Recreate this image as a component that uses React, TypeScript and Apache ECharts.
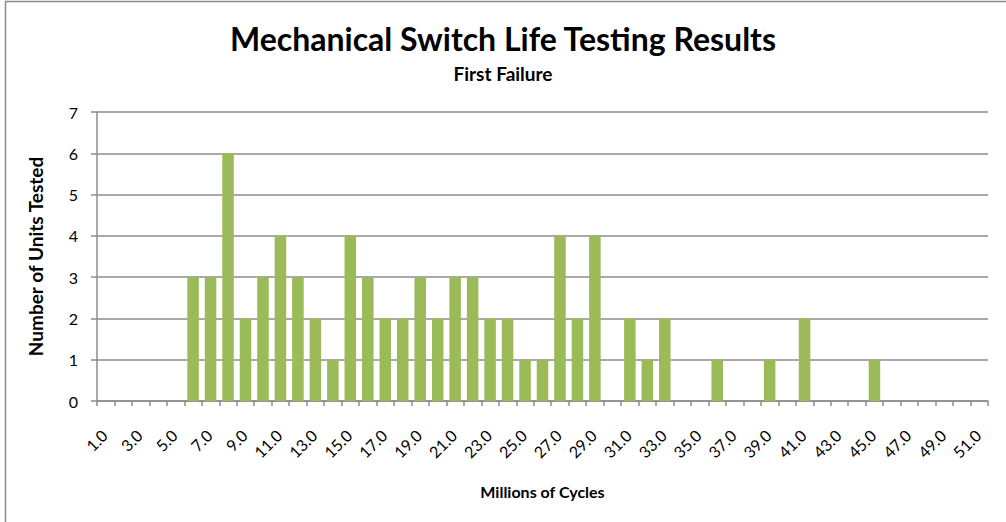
import React, { useEffect, useRef } from "react";
import * as echarts from "echarts";

const categories: string[] = [
  "1.0", "2.0", "3.0", "4.0", "5.0", "6.0", "7.0", "8.0", "9.0", "10.0",
  "11.0", "12.0", "13.0", "14.0", "15.0", "16.0", "17.0", "18.0", "19.0", "20.0",
  "21.0", "22.0", "23.0", "24.0", "25.0", "26.0", "27.0", "28.0", "29.0", "30.0",
  "31.0", "32.0", "33.0", "34.0", "35.0", "36.0", "37.0", "38.0", "39.0", "40.0",
  "41.0", "42.0", "43.0", "44.0", "45.0", "46.0", "47.0", "48.0", "49.0", "50.0",
  "51.0",
];

const unitsTested: number[] = [
  0, 0, 0, 0, 0, 3, 3, 6, 2, 3,
  4, 3, 2, 1, 4, 3, 2, 2, 3, 2,
  3, 3, 2, 2, 1, 1, 4, 2, 4, 0,
  2, 1, 2, 0, 0, 1, 0, 0, 1, 0,
  2, 0, 0, 0, 1, 0, 0, 0, 0, 0,
  0,
];

const titleText = "Mechanical Switch Life Testing Results";
const subtitleText = "First Failure";
const xName = "Millions of Cycles";
const yName = "Number of Units Tested";

export default function App() {
  const ref = useRef<HTMLDivElement>(null);
  useEffect(() => {
    if (!ref.current) return;
    const chart = echarts.init(ref.current, undefined, { renderer: "svg" });
    const font = "Lato, 'Open Sans', sans-serif";
    chart.setOption({
      animation: false,
      backgroundColor: "#ffffff",
      textStyle: { fontFamily: font },
      title: {
        text: titleText,
        subtext: subtitleText,
        left: "center",
        top: 17,
        itemGap: 10,
        textStyle: { fontFamily: font, fontSize: 32, fontWeight: "bold", color: "#000" },
        subtextStyle: { fontFamily: font, fontSize: 19, fontWeight: "bold", color: "#000" },
      },
      graphic: [
        {
          type: "rect",
          shape: { x: 5.5, y: 1.5, width: 1100, height: 700 },
          style: { fill: "none", stroke: "#8c8c8c", lineWidth: 1.5 },
          silent: true,
        },
      ],
      grid: { left: 97, right: 18, top: 112, bottom: 121, containLabel: false },
      xAxis: {
        type: "category",
        data: categories,
        name: xName,
        nameLocation: "middle",
        nameGap: 82,
        nameTextStyle: { fontFamily: font, fontSize: 16, fontWeight: "bold", color: "#000" },
        boundaryGap: true,
        axisLine: { show: true, lineStyle: { color: "#8c8c8c", width: 1.5 } },
        axisTick: { show: true, length: 5, interval: 0, lineStyle: { color: "#8c8c8c", width: 1.5 } },
        axisLabel: {
          interval: 1,
          rotate: 45,
          margin: 30,
          padding: [0, 2, 0, 0],
          fontFamily: font,
          fontSize: 16,
          color: "#000",
        },
        splitLine: { show: false },
      },
      yAxis: {
        type: "value",
        min: 0,
        max: 7,
        interval: 1,
        name: yName,
        nameLocation: "middle",
        nameGap: 52,
        nameTextStyle: { fontFamily: font, fontSize: 19, fontWeight: "bold", color: "#000" },
        axisLine: { show: true, lineStyle: { color: "#8c8c8c", width: 1.5 } },
        axisTick: { show: true, inside: false, length: 6, lineStyle: { color: "#8c8c8c", width: 1.5 } },
        axisLabel: { fontFamily: font, fontSize: 16, color: "#000", margin: 19 },
        splitLine: { show: true, lineStyle: { color: "#8c8c8c", width: 1.5 } },
      },
      series: [
        {
          type: "bar",
          data: unitsTested,
          barCategoryGap: "34%",
          itemStyle: { color: "#9BBB59" },
        },
      ],
    });
    return () => chart.dispose();
  }, []);
  return (
    <div
      ref={ref}
      style={{ position: "fixed", left: 0, top: 0, width: 1006, height: 522 }}
    />
  );
}
